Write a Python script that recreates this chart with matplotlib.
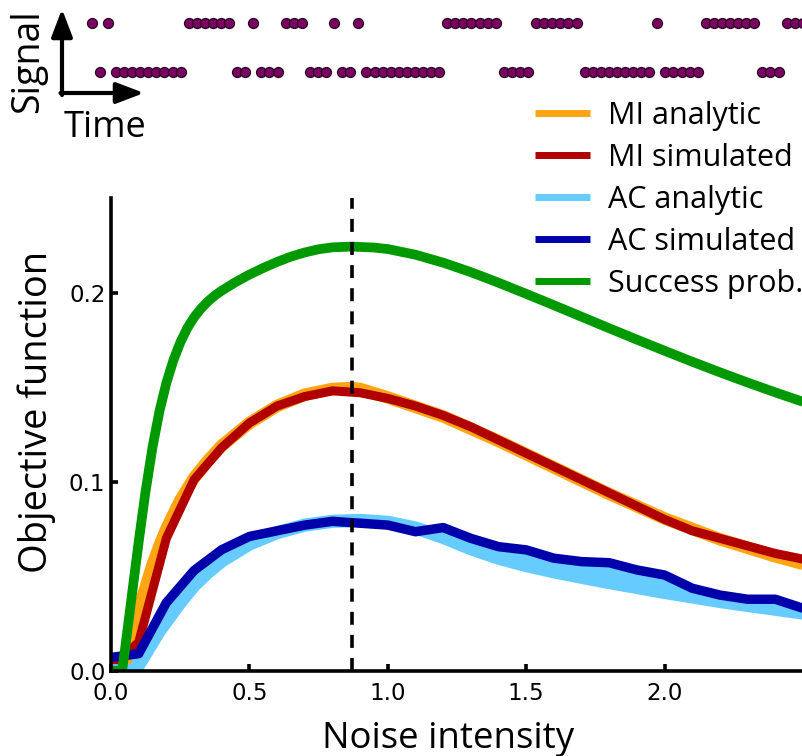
import numpy as np
import matplotlib
matplotlib.use("Agg")
import matplotlib.pyplot as plt

# ---------------- data ----------------
# binary signal (1 = upper row, 0 = lower row), one value per time step
signal = [1, 0, 1,
          0, 0, 0, 0, 0, 0, 0, 0, 0,
          1, 1, 1, 1, 1, 1,
          0, 0,
          1,
          0, 0, 0,
          1, 1, 1,
          0, 0, 0,
          1,
          0, 0,
          1,
          0, 0, 0, 0, 0, 0, 0, 0, 0, 0,
          1, 1, 1, 1, 1, 1, 1,
          0, 0, 0, 0,
          1, 1, 1, 1, 1, 1,
          0, 0, 0, 0, 0, 0, 0, 0, 0,
          1,
          0, 0, 0, 0, 0,
          1, 1, 1, 1, 1, 1, 1,
          0, 0, 0,
          1, 1, 1]

# success probability (analytic, fine grid)
noise_sp = [0.0, 0.04, 0.05, 0.075, 0.1, 0.125, 0.15, 0.175, 0.2, 0.225, 0.25, 0.275, 0.3,
            0.325, 0.35, 0.375, 0.4, 0.45, 0.5, 0.55, 0.6, 0.65, 0.7, 0.75, 0.8, 0.87, 0.95, 1.0,
            1.1, 1.2, 1.3, 1.4, 1.5, 1.6, 1.7, 1.8, 1.9, 2.0, 2.1, 2.2, 2.3, 2.4, 2.5]
success_prob = [0.0, 0.0, 0.0107, 0.0395, 0.0682, 0.0950, 0.1182, 0.1372, 0.1522, 0.1640,
                0.1735, 0.1810, 0.1869, 0.1915, 0.1953, 0.1984, 0.2010, 0.2055, 0.2095,
                0.2130, 0.2162, 0.2190, 0.2212, 0.2229, 0.2239, 0.2243, 0.2238, 0.2230,
                0.2200, 0.2158, 0.2108, 0.2052, 0.1993, 0.1933, 0.1872, 0.1811, 0.1751,
                0.1692, 0.1634, 0.1578, 0.1524, 0.1472, 0.1422]

# MI analytic curve
noise_mi = [0.0, 0.03, 0.05, 0.075, 0.1, 0.125, 0.15, 0.175, 0.2, 0.25, 0.3, 0.35, 0.4,
            0.5, 0.6, 0.7, 0.8, 0.87, 0.9, 1.0, 1.2, 1.4, 1.6, 1.8, 2.0, 2.2, 2.4, 2.5]
mi_analytic = [0.0, 0.0, 0.004, 0.019, 0.032, 0.044, 0.056, 0.066, 0.075, 0.090, 0.102, 0.111, 0.119,
               0.131, 0.140, 0.146, 0.149, 0.1495, 0.149, 0.1445, 0.1345, 0.1215, 0.1075, 0.0935,
               0.0805, 0.0695, 0.0605, 0.0565]

# AC analytic curve
noise_ac = [0.0, 0.08, 0.1, 0.125, 0.15, 0.175, 0.2, 0.25, 0.3, 0.35, 0.4, 0.5, 0.6, 0.7,
            0.8, 0.9, 1.0, 1.1, 1.2, 1.3, 1.4, 1.5, 1.6, 1.7, 1.8, 1.9, 2.0, 2.1, 2.2,
            2.3, 2.4, 2.5]
ac_analytic = [0.0, 0.0, 0.003, 0.009, 0.015, 0.021, 0.026, 0.036, 0.045, 0.052, 0.058,
               0.067, 0.073, 0.077, 0.0790, 0.0795, 0.0785, 0.0755, 0.0705, 0.0645, 0.0595,
               0.0556, 0.0523, 0.0494, 0.0466, 0.0440, 0.0414, 0.0390, 0.0366, 0.0345,
               0.0325, 0.0305]

# simulated curves (step 0.1)
noise_sim = [0.0, 0.1, 0.2, 0.3, 0.4, 0.5, 0.6, 0.7, 0.8, 0.9, 1.0, 1.1, 1.2, 1.3,
             1.4, 1.5, 1.6, 1.7, 1.8, 1.9, 2.0, 2.1, 2.2, 2.3, 2.4, 2.5]
mi_simulated = [0.002, 0.015, 0.070, 0.101, 0.118, 0.131, 0.140, 0.145, 0.148, 0.147, 0.144,
                0.140, 0.135, 0.129, 0.122, 0.115, 0.108, 0.101, 0.094, 0.087, 0.080, 0.074,
                0.070, 0.066, 0.062, 0.059]
ac_simulated = [0.007, 0.009, 0.036, 0.053, 0.064, 0.071, 0.074, 0.077, 0.079, 0.078, 0.077,
                0.0735, 0.0757, 0.070, 0.0656, 0.0639, 0.0595, 0.0577, 0.0571, 0.0533, 0.0506,
                0.0436, 0.040, 0.0378, 0.0378, 0.033]

optimal_noise = 0.87
x_ticks = [0.0, 0.5, 1.0, 1.5, 2.0]
y_ticks = [0.0, 0.1, 0.2]
labels = ["MI analytic", "MI simulated", "AC analytic", "AC simulated", "Success prob."]
colors = ["#FFA514", "#B00000", "#66CCFF", "#0000AA", "#009900"]

# ---------------- figure ----------------
W, H = 803, 756
fig = plt.figure(figsize=(W / 100, H / 100), dpi=100)
label_font = "Open Sans"

# --- signal inset ---
axs = fig.add_axes([0, 1 - 100 / H, 1, 100 / H])
axs.set_xlim(-11.35, 88.03)
axs.set_ylim(-0.585, 1.481)
axs.axis("off")
t = np.arange(len(signal))
sig = np.array(signal)
axs.plot(t, sig, linestyle="none", marker="o", ms=7.2, mfc="#7A0062", mec="#2A0A22",
         mew=0.9, clip_on=False)

# axes arrows
def arrow(x0, y0, x1, y1):
    fig.add_artist(matplotlib.patches.FancyArrowPatch(
        (x0, H - y0), (x1, H - y1), transform=None,
        arrowstyle="-|>,head_length=0.42,head_width=0.16", mutation_scale=40,
        lw=3.0, color="black", shrinkA=0, shrinkB=0))

arrow(62, 95, 62, 9)
arrow(60.5, 93, 144, 93)
fig.text(28 / W, 1 - 61 / H, "Signal", rotation=90, ha="center", va="center",
         fontsize=27, family=label_font)
fig.text(105 / W, 1 - 137 / H, "Time", ha="center", va="baseline",
         fontsize=26, family=label_font)

# --- main axes ---
ax = fig.add_axes([111 / W, 1 - 670.7 / H, (W - 111) / W, (670.7 - 198) / H])
h_mi_an, = ax.plot(noise_mi, mi_analytic, color=colors[0], lw=9.0, solid_capstyle="butt")
h_mi_sim, = ax.plot(noise_sim, mi_simulated, color=colors[1], lw=6.5, solid_capstyle="butt")
h_ac_an, = ax.plot(noise_ac, ac_analytic, color=colors[2], lw=9.5, solid_capstyle="butt")
# light-blue band between analytic AC and simulated AC where simulated is above
ac_an_arr = np.array(ac_analytic)
ac_sim_on_an = np.interp(noise_ac, noise_sim, ac_simulated)
ax.fill_between(noise_ac, ac_an_arr, ac_sim_on_an, where=ac_sim_on_an > ac_an_arr,
                interpolate=True, color=colors[2], lw=0)
h_ac_sim, = ax.plot(noise_sim, ac_simulated, color=colors[3], lw=6.8, solid_capstyle="butt")
h_sp, = ax.plot(noise_sp, success_prob, color=colors[4], lw=7.0, solid_capstyle="butt")
ax.plot([optimal_noise, optimal_noise], [0, 0.25], color="black", lw=2.6,
        linestyle=(0, (3.6, 2.8)))

ax.set_xlim(0, 2.5)
ax.set_ylim(0, 0.25)
for s in ["top", "right"]:
    ax.spines[s].set_visible(False)
for s in ["left", "bottom"]:
    ax.spines[s].set_linewidth(2.6)
ax.set_xticks(x_ticks)
ax.set_yticks(y_ticks)
ax.set_xticklabels([f"{v:.1f}" for v in x_ticks])
ax.set_yticklabels([f"{v:.1f}" for v in y_ticks])
ax.tick_params(direction="in", length=5, width=2.6, labelsize=16.5)
ax.tick_params(axis="x", pad=8)
ax.tick_params(axis="y", pad=4)
ax.set_xlabel("Noise intensity", fontsize=26.4, family=label_font)
ax.set_ylabel("Objective function", fontsize=27.4, family=label_font)
ax.xaxis.set_label_coords((448 - 111) / (W - 111), -(748 - 670.7) / (670.7 - 198), transform=ax.transAxes)
ax.xaxis.label.set_va("baseline")
ax.yaxis.set_label_coords(-(111 - 37) / (W - 111), (670.7 - 411.5) / (670.7 - 198))
ax.yaxis.label.set_va("center")

leg = fig.legend([h_mi_an, h_mi_sim, h_ac_an, h_ac_sim, h_sp], labels,
                 loc="upper left", bbox_to_anchor=(535 / W, 1 - 101 / H),
                 frameon=False, prop={"family": label_font, "size": 22},
                 handlelength=1.8, handletextpad=0.6, labelspacing=0.39,
                 borderaxespad=0, borderpad=0)
for lh in leg.get_lines():
    lh.set_linewidth(5)

fig.savefig("out.png", dpi=100)
